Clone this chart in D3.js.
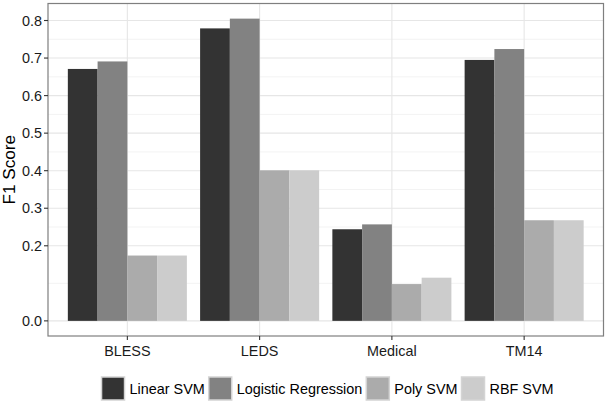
<!DOCTYPE html>
<html>
<head>
<meta charset="utf-8">
<script src="https://cdn.jsdelivr.net/npm/d3@7"></script>
<style>
  body { margin: 0; background: #fff; }
  text { font-family: "Liberation Sans", Arial, sans-serif; }
</style>
</head>
<body>
<div id="app"></div>
<script>

var datasets = ["BLESS", "LEDS", "Medical", "TM14"];
var models = ["Linear SVM", "Logistic Regression", "Poly SVM", "RBF SVM"];
var linearSvm = [0.671, 0.779, 0.244, 0.695];
var logisticRegression = [0.691, 0.805, 0.257, 0.724];
var polySvm = [0.174, 0.401, 0.098, 0.268];
var rbfSvm = [0.174, 0.401, 0.115, 0.268];
var yTicks = [0.0, 0.2, 0.3, 0.4, 0.5, 0.6, 0.7, 0.8];
var yMinor = [0.1, 0.25, 0.35, 0.45, 0.55, 0.65, 0.75];
var fills = ["#333333", "#828282", "#ababab", "#cccccc"];

var series = [linearSvm, logisticRegression, polySvm, rbfSvm];

var width = 606, height = 402;
// panel edges ("top" is reserved on window, so use p* names)
var pLeft = 48, pRight = 603.5, pTop = 3.5, pBottom = 336;

var svg = d3.select("#app")
    .append("svg")
    .attr("width", width)
    .attr("height", height);

// ggplot style: category spacing with 0.6 expansion at each end
var x = d3.scalePoint()
    .domain(datasets)
    .range([pLeft, pRight])
    .padding(0.6);
var step = x.step();

var xm = d3.scaleBand()
    .domain(models)
    .range([-0.45 * step, 0.45 * step]);

var y = d3.scaleLinear()
    .domain([-0.0403, 0.8453])
    .range([pBottom, pTop]);

// panel background grid
var grid = svg.append("g");

grid.selectAll(".minor")
    .data(yMinor)
    .enter()
    .append("line")
    .attr("x1", pLeft).attr("x2", pRight)
    .attr("y1", function (d) { return y(d); })
    .attr("y2", function (d) { return y(d); })
    .style("stroke", "#f3f3f3")
    .style("stroke-width", 1);

grid.selectAll(".major")
    .data(yTicks)
    .enter()
    .append("line")
    .attr("x1", pLeft).attr("x2", pRight)
    .attr("y1", function (d) { return y(d); })
    .attr("y2", function (d) { return y(d); })
    .style("stroke", "#e6e6e6")
    .style("stroke-width", 1.1);

grid.selectAll(".vmajor")
    .data(datasets)
    .enter()
    .append("line")
    .attr("x1", x).attr("x2", x)
    .attr("y1", pTop).attr("y2", pBottom)
    .style("stroke", "#e6e6e6")
    .style("stroke-width", 1.1);

// bars
var groups = svg.selectAll(".group")
    .data(datasets)
    .enter()
    .append("g")
    .attr("transform", function (d) { return "translate(" + x(d) + ",0)"; });

groups.selectAll("rect")
    .data(function (d, i) {
        return models.map(function (m, j) { return { model: m, value: series[j][i], k: j }; });
    })
    .enter()
    .append("rect")
    .attr("x", function (d) { return xm(d.model); })
    .attr("width", xm.bandwidth())
    .attr("y", function (d) { return y(d.value); })
    .attr("height", function (d) { return y(0) - y(d.value); })
    .style("fill", function (d) { return fills[d.k]; });

// panel border
svg.append("rect")
    .attr("x", pLeft).attr("y", pTop)
    .attr("width", pRight - pLeft).attr("height", pBottom - pTop)
    .style("fill", "none")
    .style("stroke", "#7f7f7f")
    .style("stroke-width", 1.2);

// y axis
var yAxis = svg.append("g");
yAxis.selectAll("line")
    .data(yTicks)
    .enter()
    .append("line")
    .attr("x1", pLeft - 4).attr("x2", pLeft)
    .attr("y1", function (d) { return y(d); })
    .attr("y2", function (d) { return y(d); })
    .style("stroke", "#333")
    .style("stroke-width", 1.1);
yAxis.selectAll("text")
    .data(yTicks)
    .enter()
    .append("text")
    .attr("x", pLeft - 6)
    .attr("y", function (d) { return y(d) + 5; })
    .attr("text-anchor", "end")
    .style("font-size", "14.4px")
    .style("fill", "#1a1a1a")
    .text(d3.format(".1f"));

// x axis
var xAxis = svg.append("g");
xAxis.selectAll("line")
    .data(datasets)
    .enter()
    .append("line")
    .attr("x1", x).attr("x2", x)
    .attr("y1", pBottom).attr("y2", pBottom + 4)
    .style("stroke", "#333")
    .style("stroke-width", 1.1);
xAxis.selectAll("text")
    .data(datasets)
    .enter()
    .append("text")
    .attr("x", x)
    .attr("y", 355.5)
    .attr("text-anchor", "middle")
    .style("font-size", "14.4px")
    .style("fill", "#1a1a1a")
    .text(function (d) { return d; });

svg.append("text")
    .attr("transform", "translate(15," + ((pTop + pBottom) / 2) + ") rotate(-90)")
    .attr("text-anchor", "middle")
    .style("font-size", "17.2px")
    .style("fill", "#000")
    .text("F1 Score");

// legend
var legend = svg.append("g");
var keySize = 23, keyY = 377;
var items = legend.selectAll(".item")
    .data(models)
    .enter()
    .append("g");

items.append("rect")
    .attr("width", keySize).attr("height", keySize)
    .attr("y", keyY)
    .style("fill", function (d, i) { return fills[i]; })
    .style("stroke", "#d4d4d4")
    .style("stroke-width", 1.5);

items.append("text")
    .attr("x", keySize + 5)
    .attr("y", keyY + keySize / 2 + 5.2)
    .style("font-size", "14.4px")
    .style("fill", "#000")
    .text(function (d) { return d; });

var offset = 0, positions = [];
items.each(function () {
    positions.push(offset);
    var w = d3.select(this).select("text").node().getComputedTextLength();
    offset += keySize + 5 + w + 4;
});
var total = offset - 4;
var startX = 327.5 - total / 2;
items.attr("transform", function (d, i) { return "translate(" + (startX + positions[i]) + ",0)"; });

</script>
</body>
</html>
